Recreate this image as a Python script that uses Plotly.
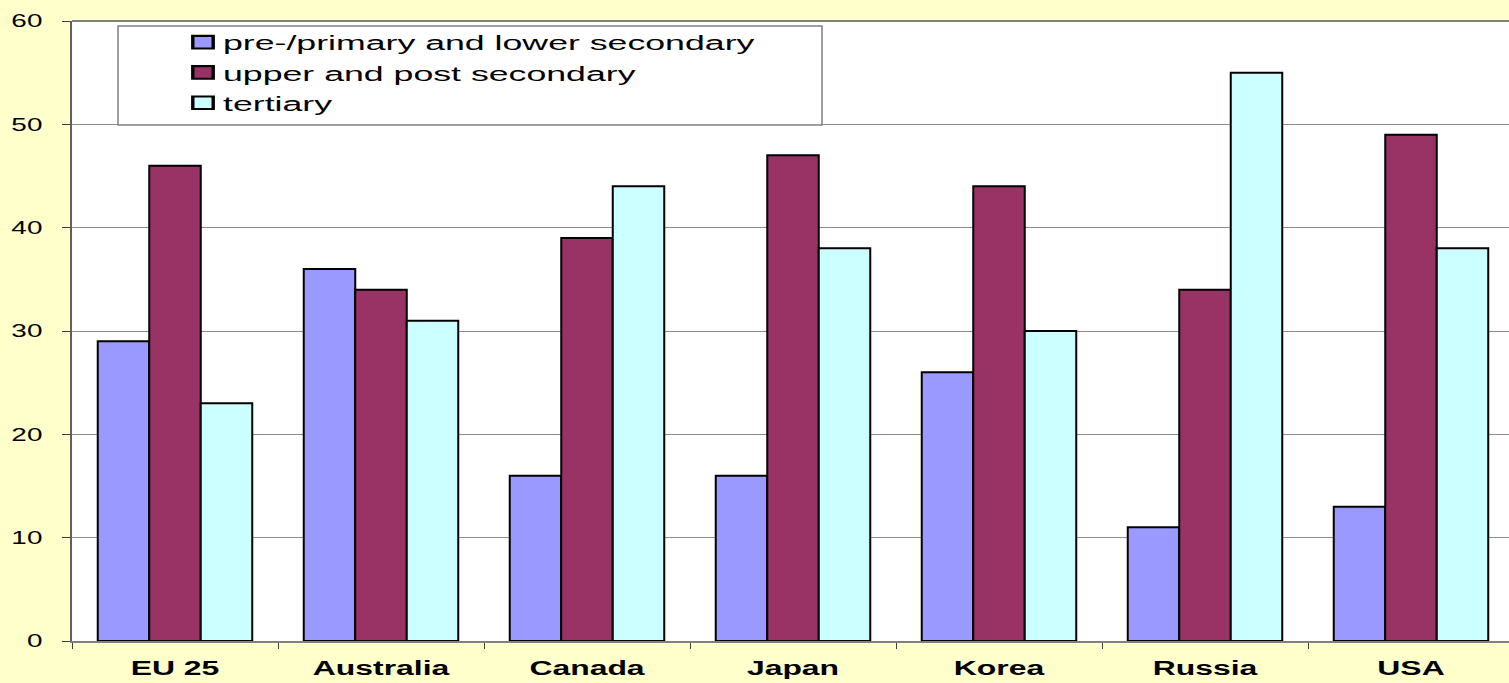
import plotly.graph_objects as go

categories = ["EU 25", "Australia", "Canada", "Japan", "Korea", "Russia", "USA"]
pre_primary = [29, 36, 16, 16, 26, 11, 13]
upper_post = [46, 34, 39, 47, 44, 34, 49]
tertiary = [23, 31, 44, 38, 30, 55, 38]
series_names = ["pre-/primary and lower secondary", "upper and post secondary", "tertiary"]
colors = ["#9999FF", "#993366", "#CCFFFF"]
y_ticks = [0, 10, 20, 30, 40, 50, 60]

W, H = 1509, 683
L, T, B = 72, 21, 42
PW, PH = W - L, H - T - B
FONT = "Liberation Sans, Arial, sans-serif"

fig = go.Figure()
for name, vals, c in zip(series_names, [pre_primary, upper_post, tertiary], colors):
    fig.add_trace(go.Bar(x=categories, y=vals, name=name,
                         marker=dict(color=c, line=dict(color="black", width=2))))

def px_x(p):
    return (p - L) / PW

def px_y(p):
    return (H - B - p) / PH

# legend box
fig.add_shape(type="rect", xref="paper", yref="paper",
              x0=px_x(118), x1=px_x(822), y0=px_y(125), y1=px_y(26),
              line=dict(color="#808080", width=1.5), fillcolor="white", layer="above")
# top border of plot
fig.add_shape(type="line", xref="paper", yref="paper", x0=0, x1=1, y0=1, y1=1,
              line=dict(color="#808080", width=2))

fig.update_layout(
    width=W, height=H,
    margin=dict(l=L, r=0, t=T, b=B, pad=0),
    paper_bgcolor="#FFFFCC",
    plot_bgcolor="white",
    barmode="group",
    bargap=0.25,
    bargroupgap=0,
    font=dict(family=FONT, color="black"),
    showlegend=True,
    legend=dict(x=px_x(183), y=px_y(22), xanchor="left", yanchor="top",
                bgcolor="rgba(0,0,0,0)", borderwidth=0,
                font=dict(size=21), tracegroupgap=0),
    xaxis=dict(range=[-0.5, 6.5 - 5 / 206], tickson="boundaries", ticks="outside",
               ticklen=6, tickcolor="#404040", showline=True, linecolor="#808080", linewidth=1.5,
               tickfont=dict(size=21, family=FONT, weight="bold"), ticklabelstandoff=7,
               showgrid=False),
    yaxis=dict(range=[0, 60], tickvals=y_ticks, ticks="outside", ticklen=8,
               tickcolor="#404040", showline=True, linecolor="#606060", linewidth=2,
               showgrid=True, gridcolor="#8c8c8c", gridwidth=1, zeroline=False,
               tickfont=dict(size=18), ticklabelstandoff=16),
)

post = """
var gd = document.getElementById('{plot_id}');
function sx(el, s, sy){
  sy = sy || 1;
  var cur = el.getAttribute('transform') || '';
  if (el.__sxDone === cur) return;
  var x = parseFloat(el.getAttribute('x')) || 0;
  var nt = cur + ' translate(' + x + ',0) scale(' + s + ',' + sy + ') translate(' + (-x) + ',0)';
  el.setAttribute('transform', nt);
  el.__sxDone = nt;
}
function widen(){
  gd.querySelectorAll('.legend [clip-path]').forEach(function(e){ e.removeAttribute('clip-path'); });
  gd.querySelectorAll('.legendtext').forEach(function(t){ sx(t, 1.7); });
  gd.querySelectorAll('.legendpoints path').forEach(function(p){ sx(p, 1.7, 1.05); });
  gd.querySelectorAll('.xtick text').forEach(function(t){ sx(t, 1.52); });
  gd.querySelectorAll('.ytick text').forEach(function(t){ sx(t, 1.55); });
}
widen();
gd.on('plotly_afterplot', widen);
"""

fig.write_html("out.html", post_script=post)
